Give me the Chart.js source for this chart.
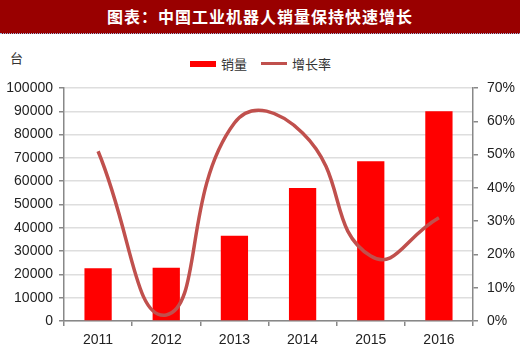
<!DOCTYPE html>
<html>
<head>
<meta charset="utf-8">
<script src="https://cdn.jsdelivr.net/npm/chart.js@4/dist/chart.umd.min.js"></script>
<style>
  body { margin: 0; background: #fff; }
  #wrap { position: relative; width: 520px; height: 354px; overflow: hidden; font-family: "Noto Sans CJK SC", sans-serif; }
  #title {
    position: absolute; left: 0; top: 0; width: 520px; height: 33px;
    background: #990000; color: #fff; font-weight: bold; font-size: 16px;
    line-height: 33px; text-align: center; letter-spacing: 1px;
    border-bottom: 1px dotted #9db8e0;
  }
  #unit { position: absolute; left: 10px; top: 48px; font-size: 13px; color: #333; }
  #legend { position: absolute; top: 54px; left: 190px; font-size: 13px; color: #333; display: flex; align-items: center; }
  .sw { display: inline-block; width: 26px; margin-right: 5px; }
  #chartBox { position: absolute; left: 0; top: 36px; width: 520px; height: 318px; }
</style>
</head>
<body>
<div id="wrap">
  <div id="title">图表：中国工业机器人销量保持快速增长</div>
  <div id="unit">台</div>
  <div id="legend">
    <span class="sw" style="height:6px;background:#ff0000"></span><span style="margin-right:14px">销量</span>
    <span class="sw" style="height:3px;background:#c0504d"></span><span>增长率</span>
  </div>
  <div id="chartBox"><canvas id="c" width="520" height="318"></canvas></div>
</div>
<script>
const years = ['2011', '2012', '2013', '2014', '2015', '2016'];
const sales = [22600, 22900, 36600, 57100, 68600, 90000];
const growth = [51, 1.8, 59.5, 56.5, 19.5, 31];

const tickFont = { family: '"Liberation Sans", Arial, sans-serif', size: 14 };

new Chart(document.getElementById('c'), {
    data: {
        labels: years,
        datasets: [
            {
                type: 'line',
                label: '增长率',
                data: growth,
                yAxisID: 'y1',
                borderColor: '#c0504d',
                borderWidth: 3.5,
                pointRadius: 0,
                tension: 0.5,
                order: 0
            },
            {
                type: 'bar',
                label: '销量',
                data: sales,
                yAxisID: 'y',
                backgroundColor: '#ff0000',
                categoryPercentage: 1,
                barPercentage: 0.4,
                order: 1
            }
        ]
    },
    options: {
        responsive: false,
        animation: false,
        layout: { padding: { top: 52, left: 0, right: 0, bottom: 0 } },
        plugins: { legend: { display: false }, tooltip: { enabled: false } },
        scales: {
            x: {
                offset: true,
                grid: { offset: true, drawOnChartArea: false, tickLength: 5, tickColor: '#888', lineWidth: 1.5 },
                border: { color: '#888', width: 1.5 },
                ticks: { color: '#222', font: tickFont, padding: 6 },
                afterFit: (s) => { s.height = 33; }
            },
            y: {
                position: 'left',
                min: 0, max: 100000,
                grid: { color: '#dedede', lineWidth: 1.5, tickLength: 5, tickColor: '#888' },
                border: { color: '#888', width: 1.5 },
                ticks: { stepSize: 10000, color: '#222', font: tickFont, padding: 6, callback: (v) => String(v) },
                afterFit: (s) => { s.width = 64; }
            },
            y1: {
                position: 'right',
                min: 0, max: 70,
                grid: { drawOnChartArea: false, tickLength: 5, tickColor: '#888', lineWidth: 1.5 },
                border: { color: '#888', width: 1.5 },
                ticks: { stepSize: 10, color: '#222', font: tickFont, padding: 9, callback: (v) => v + '%' },
                afterFit: (s) => { s.width = 47; }
            }
        }
    }
});
</script>
</body>
</html>
